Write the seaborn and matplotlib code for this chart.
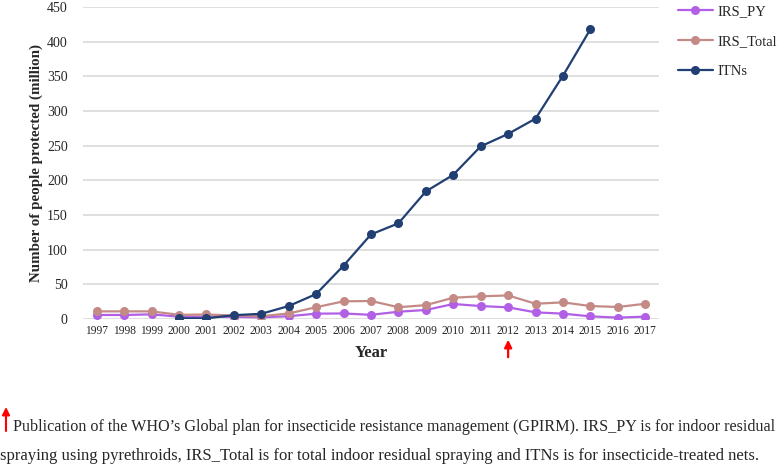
import numpy as np
import pandas as pd
import matplotlib
matplotlib.use("Agg")
import matplotlib.pyplot as plt
import seaborn as sns

# values (million people protected)
years = list(range(1997, 2018))
irs_py = [5.8, 5.8, 6.7, 3.4, 3.4, 3.0, 2.4, 4.0, 7.7, 8.0, 6.0, 10.5,
          13.0, 21.6, 18.7, 16.8, 9.6, 7.7, 3.8, 2.0, 3.4]
irs_total = [11.0, 11.0, 11.0, 6.0, 6.5, 5.0, 4.0, 8.0, 17.0, 25.5, 26.0, 17.0,
             20.0, 30.7, 32.7, 34.0, 22.0, 24.0, 18.7, 17.3, 22.0]
itns = [np.nan, np.nan, np.nan, 1.0, 1.0, 5.5, 7.5, 18.7, 36.0, 77.0, 122.0, 138.0,
        184.0, 208.0, 249.0, 267.0, 289.0, 351.0, 418.0, np.nan, np.nan]
series_names = ["IRS_PY", "IRS_Total", "ITNs"]
colors = ["#b160e6", "#c48b86", "#213f72"]
gpirm_year = 2012

caption1 = ("Publication of the WHO\u2019s Global plan for insecticide resistance "
            "management (GPIRM). IRS_PY is for indoor residual")
caption2 = ("spraying using pyrethroids, IRS_Total is for total indoor residual "
            "spraying and ITNs is for insecticide-treated nets.")

df = pd.DataFrame({"Year": years, "IRS_PY": irs_py, "IRS_Total": irs_total, "ITNs": itns})
long_df = df.melt(id_vars="Year", var_name="Series", value_name="People").dropna()

sns.set_style("white")
plt.rcParams["font.family"] = ["Liberation Serif", "DejaVu Serif"]

fig = plt.figure(figsize=(7.84, 4.75), dpi=100)
ax = fig.add_axes([83 / 784, 1 - 319 / 475, 576 / 784, 312 / 475])

sns.lineplot(data=long_df, x="Year", y="People", hue="Series", hue_order=series_names,
             palette=colors, marker="o", markersize=6.5, markeredgewidth=0,
             linewidth=1.6, ax=ax)

ax.set_xlim(1996.5, 2017.5)
ax.set_ylim(0, 450)
ax.set_xticks(years)
ax.set_xticklabels([str(y) for y in years], fontsize=8.3)
ax.set_yticks(range(0, 451, 50))
ax.tick_params(axis="y", labelsize=10, length=0, pad=11)
ax.tick_params(axis="x", length=0, pad=4)
ax.yaxis.grid(True, color="#d9d9d9", linewidth=1.2)
ax.set_axisbelow(True)
for s in ax.spines.values():
    s.set_visible(False)

ax.set_xlabel("Year", fontsize=12, fontweight="bold", labelpad=6)
ax.set_ylabel("Number of people protected (million)", fontsize=10.8,
              fontweight="bold", labelpad=3)

handles, labels = ax.get_legend_handles_labels()
ax.legend(handles, labels, loc="upper left", bbox_to_anchor=(672 / 784, 1 + 1 / 475),
          bbox_transform=fig.transFigure, frameon=False, fontsize=10.5,
          handlelength=2.4, handletextpad=0.3, labelspacing=1.15, borderaxespad=0)

# red arrow marking GPIRM publication year
ax.annotate("", xy=(gpirm_year, 1 - 337 / 475), xytext=(gpirm_year, 1 - 360 / 475),
            xycoords=("data", "figure fraction"), textcoords=("data", "figure fraction"),
            arrowprops=dict(arrowstyle="-|>", color="red", lw=1.6, mutation_scale=11))

# caption
fig.patches.append(matplotlib.patches.FancyArrowPatch(
    (6 / 784, 1 - 431 / 475), (6 / 784, 1 - 407 / 475), transform=fig.transFigure,
    arrowstyle="-|>", color="red", lw=1.5, mutation_scale=11,
    shrinkA=0, shrinkB=0))
fig.text(13 / 784, 1 - 427 / 475, caption1, fontsize=11.6, va="center", ha="left")
fig.text(0, 1 - 456 / 475, caption2, fontsize=11.95, va="center", ha="left")

fig.savefig("out.png", dpi=100)
